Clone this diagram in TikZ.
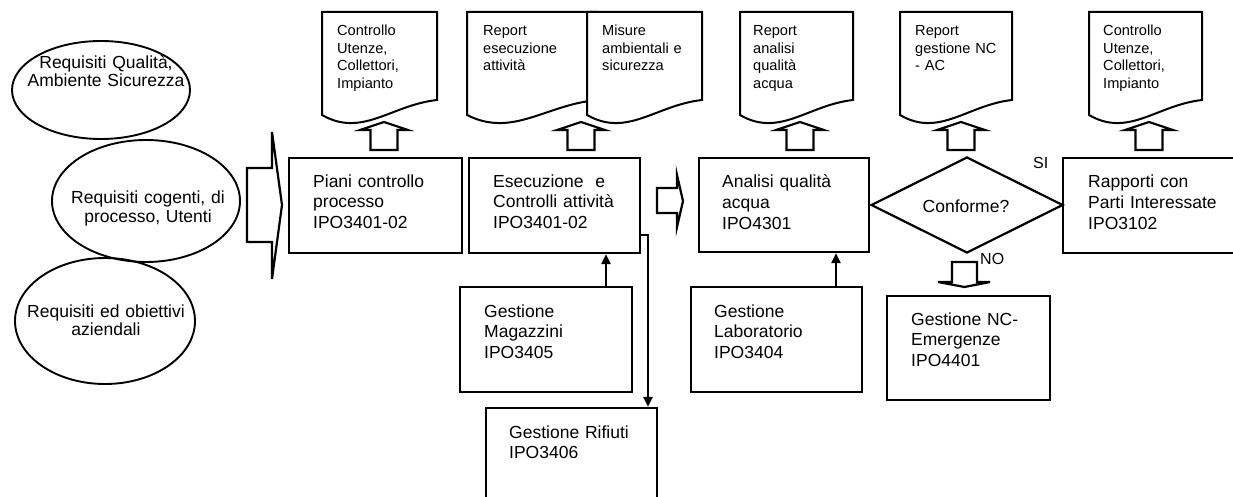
\documentclass[tikz,border=0pt]{standalone}
\usepackage{fontspec}
\setmainfont{Liberation Sans}
\usetikzlibrary{arrows.meta,shapes.geometric}
\tikzset{
  boxshape/.style={draw, line width=2.2pt, rectangle, inner sep=0pt},
  ell/.style={draw, ellipse, line width=1.9pt, inner sep=0pt},
  btext/.style={anchor=base west, inner sep=0pt, text width=170pt, align=left, font=\fontsize{17.5}{20.5}\selectfont},
  etext/.style={anchor=base, inner sep=0pt, text width=190pt, align=center, font=\fontsize{17.5}{18.5}\selectfont},
  dtext/.style={anchor=base west, inner sep=0pt, text width=110pt, align=left, font=\fontsize{14.6}{17.5}\selectfont},
  docline/.style={draw, fill=white, line width=2pt},
  blockarrow/.style={draw, fill=white, line width=2.2pt},
  arr/.style={line width=2.2pt, -{Triangle[length=10pt,width=9pt]}},
  lbl/.style={anchor=base west, inner sep=0pt, font=\fontsize{16}{18}\selectfont},
}
\newcommand{\docshape}[2]{\draw[docline] (#1,12) -- (#2,12) -- (#2,100) .. controls ({#1+0.6*(#2-#1)},105) and ({#1+0.35*(#2-#1)},138) .. (#1,115) -- cycle;}
\newcommand{\uparrowshape}[1]{\draw[blockarrow] ({#1-13.5},150) -- ({#1-13.5},130) -- ({#1-24},130) -- (#1,122) -- ({#1+24},130) -- ({#1+13.5},130) -- ({#1+13.5},150) -- cycle;}
\begin{document}
\begin{tikzpicture}[x=1pt,y=-1pt]
\fill[white] (0,0) rectangle (1233,497);
\useasboundingbox (0,0) rectangle (1233,497);
\clip (0,0) rectangle (1233,497);

% ellipses
\node[ell, minimum width=178pt, minimum height=98pt] (e1) at (101,90) {};
\node[ell, minimum width=188pt, minimum height=122pt] (e2) at (146,201) {};
\node[ell, minimum width=180pt, minimum height=126pt] (e3) at (105,321) {};
\node[etext] (et1) at (106,68.5) {Requisiti Qualità,\\Ambiente Sicurezza};
\node[etext] (et2) at (148,204) {Requisiti cogenti, di\\processo, Utenti};
\node[etext] (et3) at (106,317) {Requisiti ed obiettivi\\aziendali};

% big input arrow
\draw[blockarrow] (247,168) -- (272,168) -- (272,132) -- (282,205) -- (272,279) -- (272,242) -- (247,242) -- cycle;

% documents
\docshape{322}{437}
\docshape{467}{597}
\docshape{587}{702}
\docshape{740}{853}
\docshape{900}{1012}
\docshape{1089}{1202}
\node[dtext] (d1) at (337,36) {Controllo\\Utenze,\\Collettori,\\Impianto};
\node[dtext] (d2) at (483,36) {Report\\esecuzione\\attività};
\node[dtext] (d3) at (602,36) {Misure\\ambientali e\\sicurezza};
\node[dtext] (d4) at (753,36) {Report\\analisi\\qualità\\acqua};
\node[dtext] (d5) at (915,36) {Report\\gestione NC\\- AC};
\node[dtext] (d6) at (1103,36) {Controllo\\Utenze,\\Collettori,\\Impianto};

% up block arrows
\uparrowshape{384}
\uparrowshape{581}
\uparrowshape{800}
\uparrowshape{961}
\uparrowshape{1149}

% main boxes
\node[boxshape, minimum width=173pt, minimum height=95pt] (b1) at (375.5,205.5) {};
\node[boxshape, minimum width=171pt, minimum height=95pt] (b2) at (554.5,205.5) {};
\node[boxshape, minimum width=170pt, minimum height=94pt] (b3) at (784,205) {};
\node[boxshape, minimum width=177pt, minimum height=95pt] (b4) at (1151.5,205.5) {};
\node[draw, diamond, line width=2.2pt, inner sep=0pt, minimum width=192pt, minimum height=96pt] (dia) at (967,205) {};
\node[btext] (tb1) at (313,187) {Piani controllo\\processo\\IPO3401-02};
\node[btext] (tb2) at (493,187) {Esecuzione\ \ e\\Controlli attività\\IPO3401-02};
\node[btext] (tb3) at (722,188) {Analisi qualità\\acqua\\IPO4301};
\node[btext] (tb4) at (1088,188) {Rapporti con\\Parti Interessate\\IPO3102};
\node[anchor=base, inner sep=0pt, font=\fontsize{17.5}{20.5}\selectfont] (tdia) at (966,212) {Conforme?};
\node[lbl] (si) at (1033,168) {SI};
\node[lbl] (no) at (980,264) {NO};

% middle block arrow
\draw[blockarrow] (657,188) -- (677,188) -- (677,175) -- (683,201) -- (677,227) -- (677,213) -- (657,213) -- cycle;

% down block arrow
\draw[blockarrow] (952,262) -- (977,262) -- (977,282) -- (990,282) -- (964.5,287) -- (938,282) -- (952,282) -- cycle;

% lower boxes
\node[boxshape, minimum width=172pt, minimum height=105pt] (mag) at (546,339.5) {};
\node[boxshape, minimum width=171pt, minimum height=105pt] (lab) at (776.5,339.5) {};
\node[boxshape, minimum width=163pt, minimum height=104pt] (nc) at (968.5,348) {};
\node[boxshape, minimum width=171pt, minimum height=112pt] (rif) at (571.5,464) {};
\node[btext] (tmag) at (484,317) {Gestione\\Magazzini\\IPO3405};
\node[btext] (tlab) at (714,317) {Gestione\\Laboratorio\\IPO3404};
\node[btext] (tnc) at (911,325) {Gestione NC-\\Emergenze\\IPO4401};
\node[btext] (trif) at (509,438) {Gestione Rifiuti\\IPO3406};

% thin connectors
\coordinate (xm) at (606,0);
\coordinate (xl) at (836,0);
\coordinate (xr) at (648,0);
\coordinate (yr) at (0,235);
\draw[arr] (mag.north -| xm) -- (b2.south -| xm);
\draw[arr] (lab.north -| xl) -- (b3.south -| xl);
\draw[arr] (b2.east |- yr) -| (rif.north -| xr);
\end{tikzpicture}
\end{document}
